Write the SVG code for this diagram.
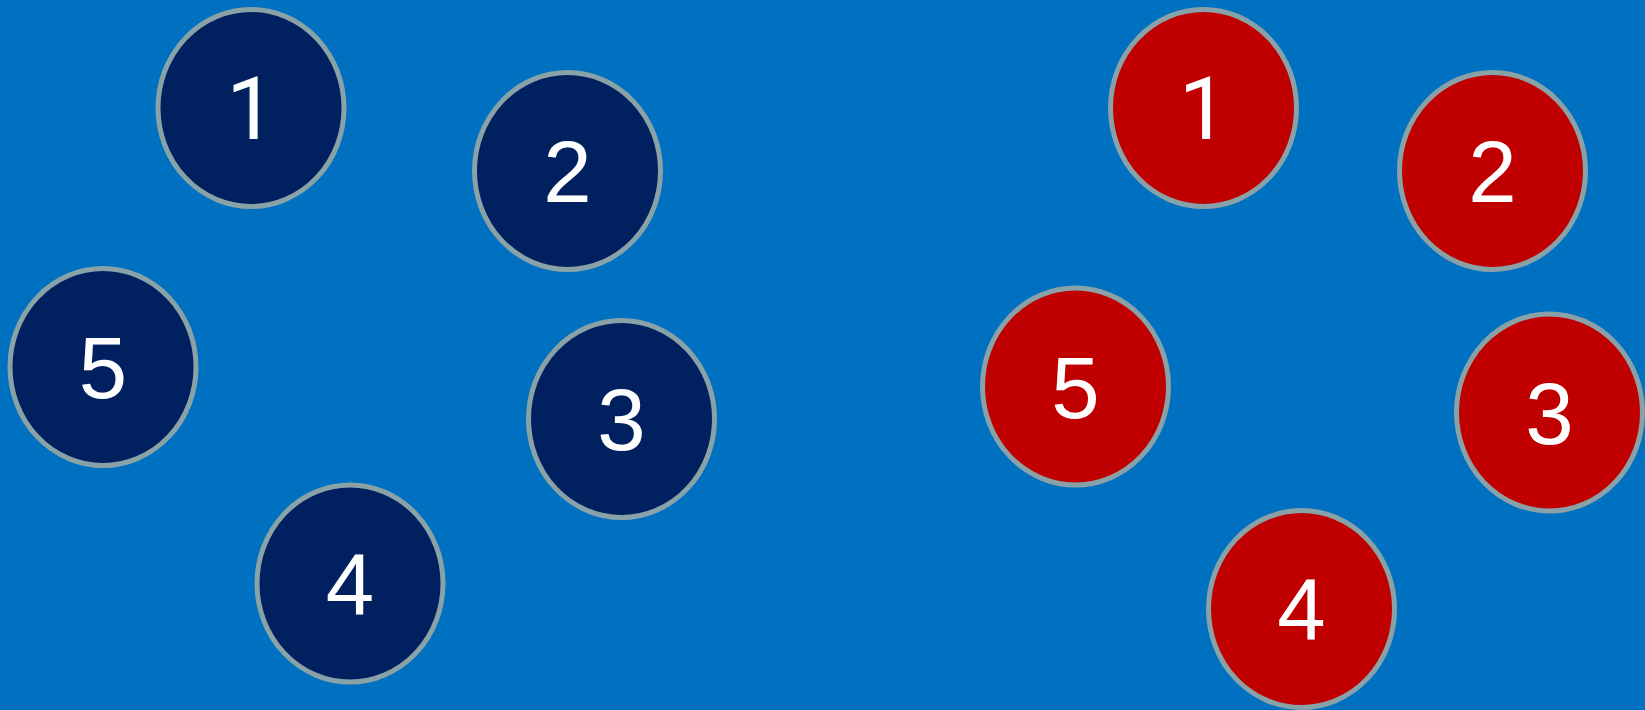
<svg xmlns="http://www.w3.org/2000/svg" width="1645" height="710" viewBox="0 0 1645 710">
<style>
.n ellipse{stroke:#89A2A7;stroke-width:5}
.b ellipse{fill:#002060}
.r ellipse{fill:#C00000}
.n text{font-family:"Liberation Sans",Arial,sans-serif;font-size:87px;fill:#FFFFFF;text-anchor:middle}
.n text.one{font-family:Roboto,"Liberation Sans",Arial,sans-serif;font-size:88px}
</style>
<rect x="0" y="0" width="1645" height="710" fill="#0070C0"/>
<g id="connectors"/>
<g id="left-1" class="n b"><ellipse cx="251" cy="108" rx="93" ry="98.5"/><text class="one" x="251" y="139">1</text></g>
<g id="left-2" class="n b"><ellipse cx="567.5" cy="171" rx="93" ry="98.5"/><text x="567.5" y="202">2</text></g>
<g id="left-3" class="n b"><ellipse cx="621.5" cy="419" rx="93" ry="98.5"/><text x="621.5" y="450">3</text></g>
<g id="left-4" class="n b"><ellipse cx="350" cy="583.5" rx="93" ry="98.5"/><text x="350" y="614.5">4</text></g>
<g id="left-5" class="n b"><ellipse cx="103" cy="367" rx="93" ry="98.5"/><text x="103" y="398">5</text></g>
<g id="right-1" class="n r"><ellipse cx="1203.5" cy="108" rx="93" ry="98.5"/><text class="one" x="1203.5" y="139">1</text></g>
<g id="right-2" class="n r"><ellipse cx="1492.5" cy="171" rx="93" ry="98.5"/><text x="1492.5" y="202">2</text></g>
<g id="right-3" class="n r"><ellipse cx="1549.5" cy="412.5" rx="93" ry="98.5"/><text x="1549.5" y="443.5">3</text></g>
<g id="right-4" class="n r"><ellipse cx="1301.5" cy="609" rx="93" ry="98.5"/><text x="1301.5" y="640">4</text></g>
<g id="right-5" class="n r"><ellipse cx="1075.5" cy="386.5" rx="93" ry="98.5"/><text x="1075.5" y="417.5">5</text></g>
</svg>
